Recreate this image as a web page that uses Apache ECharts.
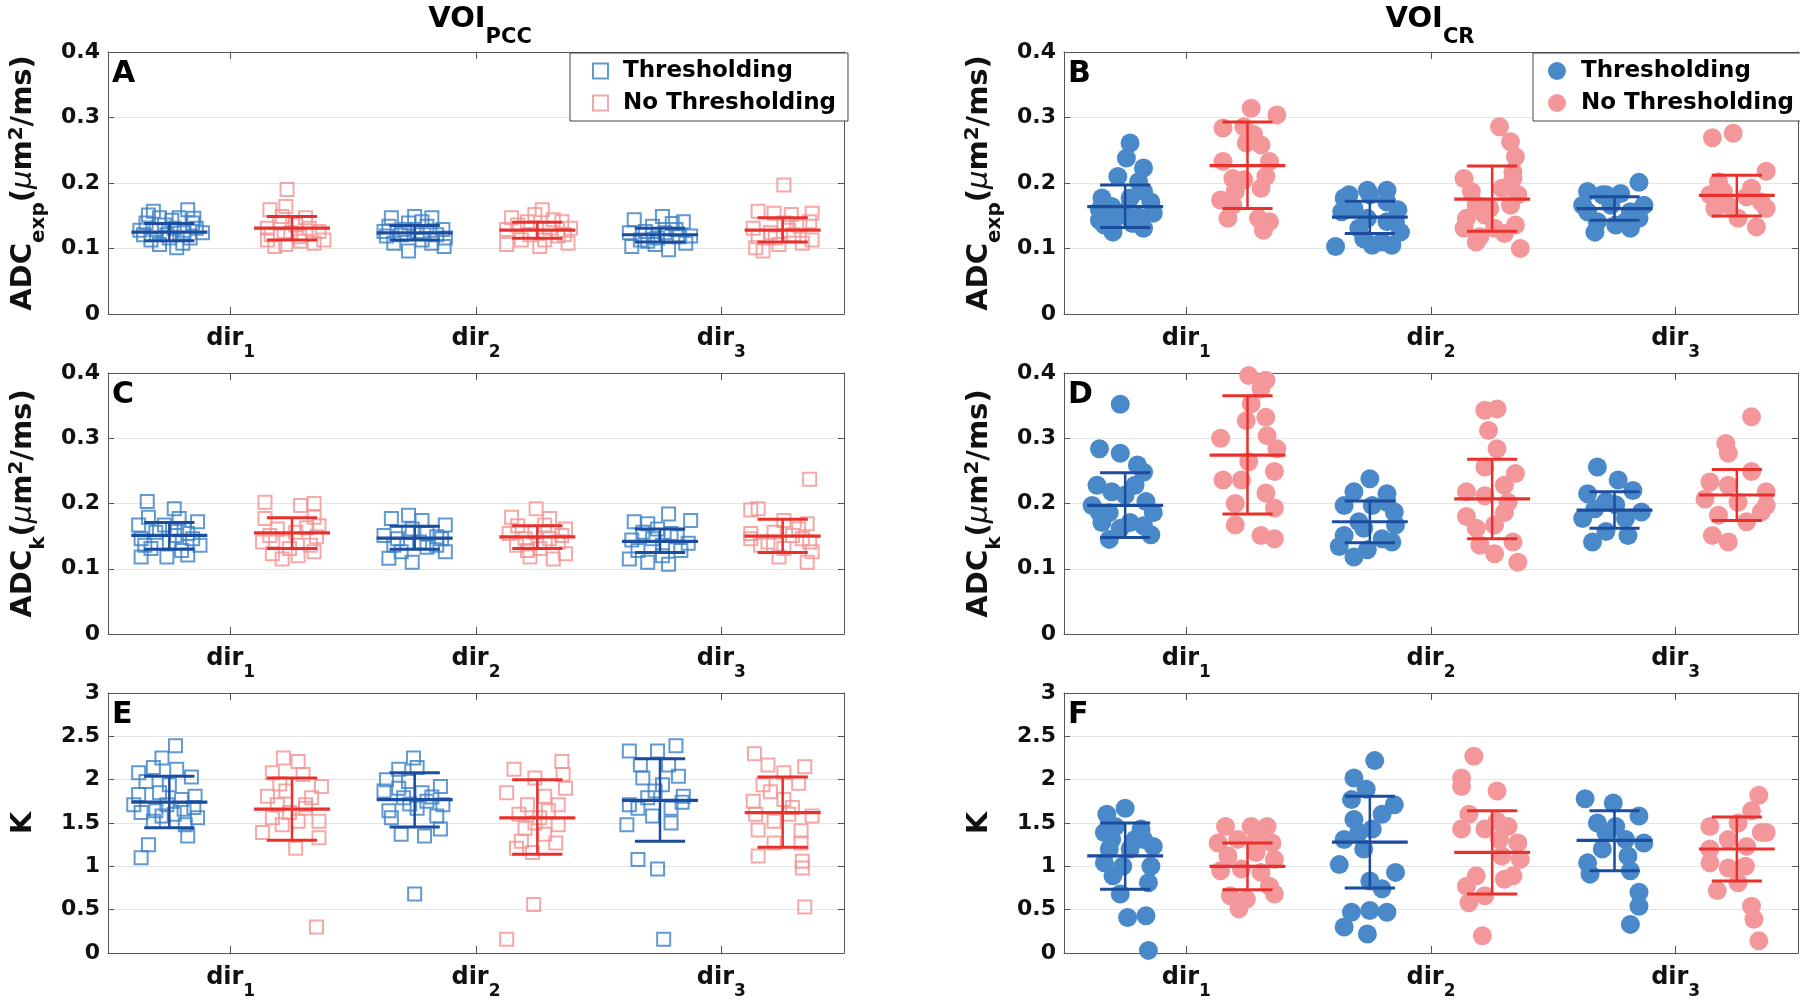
<!DOCTYPE html>
<html><head><meta charset="utf-8">
<script src="https://cdn.jsdelivr.net/npm/echarts@6/dist/echarts.min.js"></script>
<style>html,body{margin:0;padding:0;background:#fff}#c{width:1800px;height:1000px}</style>
</head><body><div id="c"></div>
<script>
// ---------- categories / ticks ----------
const dirNames = ['dir', 'dir', 'dir'];
const dirSubs = ['1', '2', '3'];
const dirTickPos = [1.5, 3.5, 5.5];
const thrPos = [1, 3, 5];      // Thresholding group slots
const noThrPos = [2, 4, 6];    // No Thresholding group slots
const seriesNames = ['Thresholding', 'No Thresholding'];
const columnTitles = [['VOI', 'PCC'], ['VOI', 'CR']];
const panelLetters = ['A', 'B', 'C', 'D', 'E', 'F'];

// ---------- data: [jitter, value] per subject, three dirs per group ----------
const A_thr = [
 [[-0.13,.157],[0.15,.159],[-0.08,.147],[0.08,.147],[-0.19,.139],[0.19,.139],[-0.11,.129],[0.04,.131],[0.27,.124],[-0.21,.121],[0,.116],[0.17,.116],[-0.08,.106],[0.06,.101],[-0.15,.113],[0.11,.108],[-0.04,.136],[-0.24,.128],[0.22,.131],[-0.02,.121],[0.12,.124],[-0.17,.151],[0.02,.143],[0.2,.146]],
 [[-0.19,.147],[0,.149],[0.14,.147],[-0.21,.134],[-0.05,.139],[0.23,.129],[-0.23,.119],[0.02,.126],[0.25,.116],[-0.17,.108],[0.14,.108],[-0.05,.096],[0.18,.121],[-0.11,.121],[0.06,.113],[-0.08,.129],[0.1,.134],[0.24,.103],[-0.25,.126],[0.06,.141]],
 [[-0.21,.144],[0.02,.149],[0.19,.141],[-0.25,.124],[-0.06,.134],[0.13,.129],[0.25,.119],[-0.23,.103],[-0.1,.111],[0.07,.098],[0.21,.108],[-0.02,.116],[-0.16,.113],[0.04,.124],[-0.12,.126],[0.16,.118],[-0.04,.106],[0.1,.138]]
];
const A_noThr = [
 [[-0.04,.190],[-0.05,.164],[-0.18,.159],[-0.08,.149],[0.11,.147],[-0.2,.131],[-0.01,.124],[0.22,.126],[0.26,.113],[-0.2,.113],[0.07,.111],[-0.14,.103],[-0.05,.106],[0.18,.108],[0.03,.136],[-0.17,.121],[0.14,.131],[0.06,.118],[-0.1,.139]],
 [[0.04,.159],[-0.02,.152],[-0.21,.147],[0.13,.144],[0.27,.131],[-0.25,.129],[-0.06,.121],[0.17,.119],[-0.25,.106],[0.02,.103],[0.25,.108],[-0.13,.113],[0.1,.131],[-0.16,.136],[0.2,.141],[0.06,.113],[-0.08,.141],[0.22,.121]],
 [[0.01,.197],[-0.2,.157],[-0.07,.154],[0.07,.152],[0.24,.154],[-0.24,.131],[-0.1,.124],[0.09,.121],[0.24,.113],[-0.22,.101],[-0.03,.106],[0.16,.108],[-0.16,.096],[0.01,.139],[-0.2,.118],[0.14,.134],[0.22,.141],[-0.06,.116],[0.05,.128]]
];
const A_thrStats = [[.125,.112,.138],[.124,.113,.135],[.121,.110,.131]];
const A_noThrStats = [[.131,.113,.149],[.128,.1155,.140],[.128,.110,.147]];

const B_thr = [
 [[0.04,.261],[0.01,.238],[0.15,.223],[-0.06,.210],[0.11,.202],[0.15,.187],[-0.19,.177],[0.21,.171],[0.04,.177],[-0.21,.159],[-0.11,.164],[0.23,.154],[-0.21,.143],[-0.08,.146],[0.11,.148],[-0.1,.125],[0.15,.131],[0.06,.138],[-0.17,.136],[0,.156]],
 [[-0.17,.182],[-0.02,.189],[0.14,.189],[-0.28,.103],[-0.13,.161],[0.23,.159],[-0.02,.146],[0.14,.141],[-0.09,.131],[0.25,.125],[-0.23,.156],[0.02,.105],[0.18,.105],[0.21,.141],[-0.21,.177],[0.1,.110],[-0.05,.115],[0.14,.171],[0,.182]],
 [[0.2,.201],[-0.22,.187],[0.05,.184],[-0.1,.182],[-0.26,.166],[0.24,.166],[0.13,.156],[-0.14,.141],[0.09,.141],[-0.16,.125],[0.13,.131],[-0.03,.166],[0.2,.146],[-0.22,.156],[0.01,.136],[-0.07,.182]]
];
const B_noThr = [
 [[0.03,.314],[0.24,.304],[-0.2,.284],[-0.03,.286],[-0.01,.261],[0.11,.258],[0.18,.233],[-0.2,.233],[-0.12,.207],[-0.03,.205],[0.15,.210],[-0.22,.174],[-0.12,.166],[-0.16,.146],[0.09,.146],[0.18,.141],[0.13,.128],[0.05,.274],[-0.1,.187],[0.11,.192]],
 [[0.06,.286],[0.15,.263],[0.19,.240],[-0.23,.207],[0.17,.207],[0.08,.192],[0.21,.182],[-0.13,.166],[-0.02,.161],[0.15,.166],[-0.21,.146],[-0.06,.151],[0.19,.136],[-0.23,.131],[-0.1,.118],[0.1,.123],[-0.13,.110],[0.23,.100],[0.02,.131],[0.17,.217],[-0.17,.187]],
 [[-0.2,.269],[-0.03,.276],[0.24,.218],[-0.15,.202],[0.12,.192],[-0.22,.182],[0.2,.171],[-0.07,.166],[-0.18,.161],[0.01,.146],[0.16,.133],[-0.11,.187],[0.08,.179],[0.24,.161],[-0.16,.171]]
];
const B_thrStats = [[.164,.132,.197],[.148,.123,.172],[.161,.143,.179]];
const B_noThrStats = [[.2265,.161,.293],[.1755,.1265,.226],[.181,.1495,.212]];

const C_thr = [
 [[-0.18,.203],[0.04,.192],[-0.17,.179],[0.23,.172],[0.08,.177],[-0.25,.167],[-0.08,.161],[0.15,.154],[-0.23,.146],[0,.141],[0.25,.136],[-0.15,.131],[0.1,.128],[-0.23,.118],[-0.02,.118],[0.15,.121],[-0.11,.156],[0.19,.146],[-0.04,.167],[0.06,.151],[-0.2,.136],[0.12,.161]],
 [[-0.05,.182],[-0.19,.177],[0.06,.174],[0.25,.167],[-0.25,.151],[-0.05,.156],[0.18,.149],[-0.17,.136],[0.1,.133],[0.25,.126],[-0.21,.116],[-0.02,.110],[-0.02,.161],[0.18,.136],[-0.11,.126],[0.1,.154],[-0.14,.146],[0.04,.141],[0.22,.146]],
 [[0.07,.184],[0.25,.174],[-0.21,.172],[-0.1,.169],[-0.23,.144],[0.09,.154],[0.23,.139],[-0.18,.128],[0.02,.120],[0.17,.128],[-0.25,.115],[-0.1,.110],[0.07,.107],[-0.06,.146],[0.14,.149],[-0.14,.156],[0.02,.136],[-0.02,.161]]
];
const C_noThr = [
 [[-0.22,.202],[0.18,.200],[0.07,.197],[-0.22,.177],[0.18,.179],[-0.12,.161],[0.03,.156],[0.2,.149],[-0.24,.141],[-0.05,.141],[0.15,.136],[-0.16,.123],[0.05,.120],[-0.08,.115],[0.18,.126],[-0.18,.151],[0.12,.163],[-0.02,.131],[0.22,.166]],
 [[-0.01,.192],[-0.21,.179],[0.1,.177],[0.23,.161],[-0.23,.154],[-0.02,.156],[0.17,.141],[-0.17,.136],[0.02,.131],[0.23,.123],[-0.06,.118],[0.13,.115],[-0.1,.146],[0.1,.146],[-0.16,.166],[0.06,.167],[0.2,.151],[-0.08,.128]],
 [[0.22,.237],[-0.26,.190],[-0.2,.192],[0.01,.174],[0.2,.169],[-0.26,.154],[-0.07,.156],[0.16,.146],[-0.18,.136],[0.01,.131],[0.24,.126],[-0.03,.118],[0.2,.110],[-0.26,.146],[0.13,.161],[-0.12,.141],[0.08,.151],[0.22,.141]]
];
const C_thrStats = [[.151,.130,.171],[.147,.130,.165],[.142,.125,.161]];
const C_noThrStats = [[.155,.131,.178],[.149,.131,.166],[.150,.125,.176]];

const D_thr = [
 [[-0.04,.352],[-0.21,.284],[-0.04,.277],[0.1,.259],[0.15,.248],[-0.23,.228],[-0.11,.218],[0,.213],[0.17,.203],[-0.27,.197],[-0.13,.186],[0.23,.186],[-0.19,.171],[0.04,.171],[0.15,.166],[-0.13,.145],[0.21,.152],[-0.04,.162],[0.08,.228],[-0.21,.186]],
 [[0,.238],[-0.13,.218],[0.14,.215],[-0.21,.197],[0.02,.197],[0.2,.187],[-0.09,.172],[0.21,.167],[-0.21,.151],[0.1,.146],[-0.25,.134],[-0.13,.118],[-0.02,.129],[0.18,.141],[-0.05,.162],[0.14,.202]],
 [[-0.14,.256],[0.03,.236],[-0.22,.215],[0.15,.220],[-0.07,.203],[0.22,.187],[-0.26,.177],[0.09,.177],[-0.07,.157],[-0.18,.141],[0.11,.151],[0.01,.198],[-0.16,.192]]
];
const D_noThr = [
 [[0.01,.396],[0.15,.389],[0.11,.376],[0.03,.353],[0.15,.332],[-0.01,.327],[0.16,.304],[0.24,.284],[-0.22,.300],[0.22,.249],[-0.2,.236],[-0.05,.236],[0.15,.216],[-0.1,.200],[0.22,.193],[-0.1,.167],[0.11,.151],[0.22,.146],[0.01,.264]],
 [[-0.06,.343],[0.04,.345],[-0.03,.312],[0.04,.284],[0.19,.246],[-0.06,.256],[-0.21,.218],[0.1,.228],[-0.06,.212],[-0.21,.180],[0.1,.186],[-0.13,.162],[0.02,.167],[0.17,.141],[-0.1,.136],[0.02,.123],[0.21,.110],[0.13,.202]],
 [[0.12,.333],[-0.09,.292],[-0.07,.277],[0.12,.249],[-0.22,.233],[-0.07,.228],[0.24,.218],[-0.26,.207],[0.01,.202],[0.2,.187],[-0.15,.182],[0.08,.172],[-0.2,.151],[-0.07,.141],[0.24,.197]]
];
const D_thrStats = [[.197,.148,.247],[.172,.140,.204],[.190,.162,.218]];
const D_noThrStats = [[.274,.184,.365],[.207,.146,.268],[.213,.174,.252]];

const E_thr = [
 [[0.05,2.39],[-0.06,2.25],[-0.25,2.08],[-0.13,2.14],[0.06,2.12],[0.18,2.03],[-0.19,1.98],[0,1.94],[-0.25,1.83],[-0.08,1.85],[0.1,1.77],[0.21,1.81],[-0.23,1.62],[-0.11,1.64],[0.04,1.60],[0.23,1.56],[-0.13,1.52],[0.13,1.48],[0.15,1.35],[-0.17,1.25],[-0.23,1.10],[-0.02,1.71],[-0.29,1.71],[0.12,1.66],[-0.06,1.58],[0.2,1.68]],
 [[-0.01,2.25],[-0.13,2.12],[0.02,2.14],[-0.23,2.00],[-0.05,1.98],[0.21,1.92],[-0.25,1.87],[-0.09,1.79],[0.1,1.75],[0.23,1.71],[-0.21,1.64],[0.02,1.67],[0.18,1.58],[-0.19,1.56],[0.21,1.43],[-0.11,1.37],[0.08,1.35],[0,0.68],[-0.13,1.90],[0.06,1.85],[-0.04,1.72],[0.14,1.80]],
 [[-0.25,2.33],[-0.02,2.33],[0.13,2.39],[-0.16,2.17],[0.07,2.17],[-0.14,2.02],[0.15,2.04],[-0.04,1.87],[-0.25,1.71],[0.19,1.81],[-0.18,1.67],[0.09,1.67],[-0.27,1.48],[0.09,1.50],[-0.06,1.58],[-0.18,1.08],[-0.02,0.97],[0.03,0.16],[0.02,1.94],[0.18,1.74],[-0.1,1.79]]
];
const E_noThr = [
 [[-0.07,2.25],[0.05,2.21],[-0.16,2.08],[0.09,2.06],[0.24,1.92],[-0.2,1.81],[-0.05,1.87],[-0.12,1.71],[0.11,1.67],[0.22,1.52],[-0.24,1.39],[-0.08,1.48],[0.05,1.52],[0.22,1.33],[0.03,1.21],[0.2,0.30],[0.11,1.71],[-0.16,1.56],[-0.02,1.62],[0.16,1.79],[-0.1,1.95]],
 [[0.2,2.21],[0.21,2.06],[-0.19,2.12],[-0.02,2.02],[-0.25,1.85],[0.23,1.90],[0.06,1.81],[-0.08,1.71],[0.17,1.71],[-0.15,1.60],[0.02,1.56],[0.17,1.48],[-0.1,1.44],[0.06,1.37],[0.15,1.27],[-0.17,1.21],[-0.04,1.16],[-0.03,0.56],[-0.25,0.16],[-0.13,1.29],[0.09,1.64],[-0.02,1.50]],
 [[-0.23,2.30],[-0.12,2.17],[0.18,2.15],[0.01,2.08],[-0.16,1.94],[0.13,1.96],[-0.24,1.75],[0.01,1.77],[0.24,1.58],[-0.22,1.60],[-0.07,1.52],[0.15,1.41],[-0.2,1.42],[-0.07,1.27],[0.15,1.27],[-0.2,1.12],[0.16,1.06],[0.16,0.98],[0.18,0.53],[0.05,1.60],[-0.1,1.86],[0.08,1.68]]
];
const E_thrStats = [[1.74,1.445,2.04],[1.77,1.455,2.08],[1.76,1.29,2.24]];
const E_noThrStats = [[1.66,1.30,2.02],[1.56,1.14,2.00],[1.62,1.22,2.03]];

const F_thr = [
 [[0,1.67],[-0.15,1.60],[-0.17,1.39],[-0.08,1.46],[0.13,1.43],[0.15,1.31],[0.23,1.23],[-0.13,1.20],[0.04,1.20],[-0.17,1.04],[-0.02,1.00],[0.21,1.00],[-0.1,0.89],[0.19,0.81],[-0.04,0.68],[0.02,0.41],[0.17,0.43],[0.19,0.03],[0.08,1.31],[-0.11,1.31]],
 [[0.04,2.22],[-0.13,2.02],[-0.03,1.89],[-0.15,1.77],[0.2,1.71],[0.1,1.60],[-0.13,1.54],[0.02,1.43],[-0.21,1.31],[-0.05,1.20],[-0.25,1.02],[0.21,0.93],[0,0.83],[0.1,0.74],[-0.15,0.47],[0,0.49],[0.14,0.47],[-0.21,0.30],[-0.02,0.22],[-0.09,1.39]],
 [[-0.24,1.78],[-0.01,1.73],[0.2,1.58],[-0.14,1.50],[0.01,1.46],[0.24,1.27],[-0.1,1.20],[-0.22,1.04],[0.11,1.12],[-0.2,0.91],[0.13,0.95],[0.2,0.70],[0.2,0.54],[0.13,0.33],[0.09,1.31],[-0.07,1.39]]
];
const F_noThr = [
 [[-0.18,1.46],[0.03,1.46],[0.16,1.46],[-0.24,1.27],[-0.08,1.31],[0.2,1.27],[-0.16,1.12],[0.07,1.16],[0.22,1.08],[-0.22,0.95],[-0.05,0.97],[0.11,0.93],[0.18,0.77],[-0.14,0.66],[0.22,0.68],[-0.07,0.51],[-0.01,0.62],[0.07,1.31]],
 [[-0.15,2.27],[-0.25,2.02],[-0.25,1.92],[0.04,1.87],[-0.19,1.60],[0.04,1.52],[-0.25,1.43],[-0.06,1.43],[0.13,1.46],[0.21,1.27],[0.06,1.31],[0.23,1.08],[0.08,1.12],[-0.13,0.89],[0.1,0.85],[-0.21,0.77],[-0.06,0.66],[-0.19,0.58],[-0.08,0.20],[0.17,0.89]],
 [[0.18,1.82],[0.12,1.64],[-0.22,1.46],[0.01,1.50],[0.2,1.39],[-0.07,1.31],[-0.22,1.20],[0.08,1.23],[-0.22,1.04],[-0.07,0.98],[0.07,1.00],[-0.16,0.72],[0.01,0.81],[0.12,0.54],[0.14,0.39],[0.18,0.14],[0.24,1.39]]
];
const F_thrStats = [[1.12,0.735,1.50],[1.28,0.75,1.81],[1.30,0.95,1.64]];
const F_noThrStats = [[1.00,0.73,1.27],[1.16,0.68,1.64],[1.20,0.83,1.57]];

const adcTicks = {max: 0.4, interval: 0.1};
const kTicks = {max: 3, interval: 0.5};

// ---------- styling ----------
const FONT = '"DejaVu Sans", "Liberation Sans", sans-serif';
const TXT = '#111';
const AXC = '#555';
const BLUE_F = '#4a89c9', PINK_F = '#f4979a';
const BLUE_S = '#3a80c6', PINK_S = '#f29292';
const BLUE_E = '#1c4c9e', RED_E = '#e8302c';
const MEAN_HALF = 0.31, CAP_HALF = 0.205;

const panels = [
  {thr:A_thr, no:A_noThr, ts:A_thrStats, ns:A_noThrStats, ax:adcTicks, name:'{a|ADC}{s|exp}{a|(}{u|μ}{a|m}{p|2}{a|/ms)}', hollow:true},
  {thr:B_thr, no:B_noThr, ts:B_thrStats, ns:B_noThrStats, ax:adcTicks, name:'{a|ADC}{s|exp}{a|(}{u|μ}{a|m}{p|2}{a|/ms)}', hollow:false},
  {thr:C_thr, no:C_noThr, ts:C_thrStats, ns:C_noThrStats, ax:adcTicks, name:'{a|ADC}{s|k}{a|(}{u|μ}{a|m}{p|2}{a|/ms)}', hollow:true},
  {thr:D_thr, no:D_noThr, ts:D_thrStats, ns:D_noThrStats, ax:adcTicks, name:'{a|ADC}{s|k}{a|(}{u|μ}{a|m}{p|2}{a|/ms)}', hollow:false},
  {thr:E_thr, no:E_noThr, ts:E_thrStats, ns:E_noThrStats, ax:kTicks, name:'{a|K}', hollow:true},
  {thr:F_thr, no:F_noThr, ts:F_thrStats, ns:F_noThrStats, ax:kTicks, name:'{a|K}', hollow:false}
];
const colLeft = [108, 1064], colWidth = [736, 734];
const rowTop = [52, 373, 693], rowHeight = [262, 261, 261];

const nameRich = {
  a: {fontSize: 29, fontWeight: 'bold', fontFamily: FONT, color: TXT, lineHeight: 29, verticalAlign: 'bottom', padding: [0,0,11,0]},
  u: {fontSize: 29, fontStyle: 'italic', fontFamily: FONT, color: TXT, lineHeight: 29, verticalAlign: 'bottom', padding: [0,0,11,0]},
  s: {fontSize: 20, fontWeight: 'bold', fontFamily: FONT, color: TXT, lineHeight: 20, verticalAlign: 'bottom'},
  p: {fontSize: 20, fontWeight: 'bold', fontFamily: FONT, color: TXT, lineHeight: 20, verticalAlign: 'bottom', padding: [0,0,22,0]}
};
const dirRich = {
  d: {fontSize: 24, fontWeight: 'bold', fontFamily: FONT, color: TXT, lineHeight: 24, verticalAlign: 'bottom', padding: [0,0,10,0]},
  s: {fontSize: 17, fontWeight: 'bold', fontFamily: FONT, color: TXT, lineHeight: 17, verticalAlign: 'bottom'}
};

function errRender(color) {
  return function (params, api) {
    const x = api.value(0), m = api.value(1), lo = api.value(2), hi = api.value(3);
    const pm = api.coord([x, m]), pl = api.coord([x, lo]), ph = api.coord([x, hi]);
    const hw = api.size([MEAN_HALF, 0])[0], cw = api.size([CAP_HALF, 0])[0];
    const st = (w) => ({stroke: color, lineWidth: w});
    return {type: 'group', children: [
      {type: 'line', shape: {x1: pm[0], y1: ph[1], x2: pm[0], y2: pl[1]}, style: st(2.5)},
      {type: 'line', shape: {x1: pm[0]-cw, y1: ph[1], x2: pm[0]+cw, y2: ph[1]}, style: st(3)},
      {type: 'line', shape: {x1: pm[0]-cw, y1: pl[1], x2: pm[0]+cw, y2: pl[1]}, style: st(3)},
      {type: 'line', shape: {x1: pm[0]-hw, y1: pm[1], x2: pm[0]+hw, y2: pm[1]}, style: st(3.2)}
    ]};
  };
}

const grid = [], xAxis = [], yAxis = [], series = [], title = [];
panels.forEach((p, i) => {
  const col = i % 2, row = Math.floor(i / 2);
  grid.push({left: colLeft[col], top: rowTop[row], width: colWidth[col], height: rowHeight[row], containLabel: false});
  const tickCommon = {show: true, inside: true, length: 7, lineStyle: {color: AXC}};
  xAxis.push({gridIndex: i, type: 'value', min: 0.5, max: 6.5, position: 'bottom',
    axisLine: {show: true, onZero: false, lineStyle: {color: AXC, width: 1}},
    axisTick: Object.assign({customValues: dirTickPos}, tickCommon),
    axisLabel: {customValues: dirTickPos, margin: 23, rich: dirRich,
      formatter: (v) => { const k = dirTickPos.indexOf(v); return k < 0 ? '' : '{d|' + dirNames[k] + '}{s|' + dirSubs[k] + '}'; }},
    splitLine: {show: false}});
  xAxis.push({gridIndex: i, type: 'value', min: 0.5, max: 6.5, position: 'top',
    axisLine: {show: true, onZero: false, lineStyle: {color: AXC, width: 1}},
    axisTick: Object.assign({customValues: dirTickPos}, tickCommon),
    axisLabel: {show: false}, splitLine: {show: false}});
  yAxis.push({gridIndex: i, type: 'value', min: 0, max: p.ax.max, interval: p.ax.interval, position: 'left',
    axisLine: {show: true, onZero: false, lineStyle: {color: AXC, width: 1}},
    axisTick: Object.assign({}, tickCommon, {length: 6}),
    axisLabel: {fontSize: 22, fontWeight: 'bold', fontFamily: FONT, color: TXT, margin: 8},
    splitLine: {show: true, lineStyle: {color: '#e4e4e4', width: 1}},
    name: p.name, nameLocation: 'middle', nameRotate: 90, nameGap: 59,
    nameTextStyle: {rich: nameRich}});
  yAxis.push({gridIndex: i, type: 'value', min: 0, max: p.ax.max, interval: p.ax.interval, position: 'right',
    axisLine: {show: true, onZero: false, lineStyle: {color: AXC, width: 1}},
    axisTick: Object.assign({}, tickCommon, {length: 6}),
    axisLabel: {show: false}, splitLine: {show: false}});

  const right = col === 1;
  const mk = (groups, pos) => groups.flatMap((g, k) => g.map(([j, v]) => [pos[k] + j, v]));
  const scat = (nm, groups, pos, fill, stroke) => ({
    type: 'scatter', name: (right ? 'CR:' : '') + nm, xAxisIndex: 2*i, yAxisIndex: 2*i,
    data: mk(groups, pos), clip: false, z: 2, silent: true,
    symbol: p.hollow ? 'rect' : 'circle', symbolSize: p.hollow ? 13 : 19,
    itemStyle: p.hollow ? {color: 'rgba(255,255,255,0)', borderColor: stroke, borderWidth: 2} : {color: fill, opacity: 1}
  });
  series.push(scat(seriesNames[0], p.thr, thrPos, BLUE_F, BLUE_S));
  series.push(scat(seriesNames[1], p.no, noThrPos, PINK_F, PINK_S));
  const err = (nm, stats, pos, color) => ({
    type: 'custom', name: 'err-' + nm + i, xAxisIndex: 2*i, yAxisIndex: 2*i, z: 5, silent: true,
    data: stats.map((s, k) => [pos[k], s[0], s[1], s[2]]), encode: {x: 0, y: [1,2,3]},
    renderItem: errRender(color), clip: false
  });
  series.push(err('t', p.ts, thrPos, BLUE_E));
  series.push(err('n', p.ns, noThrPos, RED_E));

  title.push({text: panelLetters[i], left: colLeft[col] + 4, top: rowTop[row] + 7, padding: 0,
    textStyle: {fontSize: 30, fontWeight: 'bold', fontFamily: FONT, color: '#000'}});
});
const titleRich = {
  v: {fontSize: 29, fontWeight: 'bold', fontFamily: FONT, color: '#000', lineHeight: 29, verticalAlign: 'bottom', padding: [0,0,14,0]},
  s: {fontSize: 21, fontWeight: 'bold', fontFamily: FONT, color: '#000', lineHeight: 21, verticalAlign: 'bottom'}
};
title.push({text: '{v|' + columnTitles[0][0] + '}{s|' + columnTitles[0][1] + '}', left: 480, top: 19, textAlign: 'center', padding: 0, textStyle: {rich: titleRich}});
title.push({text: '{v|' + columnTitles[1][0] + '}{s|' + columnTitles[1][1] + '}', left: 1430, top: 19, textAlign: 'center', padding: 0, textStyle: {rich: titleRich}});

const legendBase = {orient: 'vertical', selectedMode: false, itemGap: 4, itemWidth: 15, itemHeight: 15,
  backgroundColor: '#fff', borderColor: '#444', borderWidth: 1, borderRadius: 0,
  textStyle: {fontSize: 23, fontWeight: 'bold', fontFamily: FONT, color: '#000', lineHeight: 28, padding: [0,0,0,10]},
  formatter: (n) => n.replace('CR:', '')};
const legend = [
  Object.assign({}, legendBase, {left: 570, top: 53, padding: [4, 12, 4, 22],
    data: [
      {name: seriesNames[0], icon: 'rect', itemStyle: {color: 'rgba(255,255,255,0)', borderColor: BLUE_S, borderWidth: 2}},
      {name: seriesNames[1], icon: 'rect', itemStyle: {color: 'rgba(255,255,255,0)', borderColor: PINK_S, borderWidth: 2}}]}),
  Object.assign({}, legendBase, {left: 1533, top: 53, padding: [4, 7, 4, 15], itemWidth: 18, itemHeight: 18,
    data: [
      {name: 'CR:' + seriesNames[0], icon: 'circle', itemStyle: {color: BLUE_F}},
      {name: 'CR:' + seriesNames[1], icon: 'circle', itemStyle: {color: PINK_F}}]})
];

const chart = echarts.init(document.getElementById('c'), null, {renderer: 'canvas'});
chart.setOption({animation: false, backgroundColor: '#fff', title, legend, grid, xAxis, yAxis, series});
</script></body></html>
